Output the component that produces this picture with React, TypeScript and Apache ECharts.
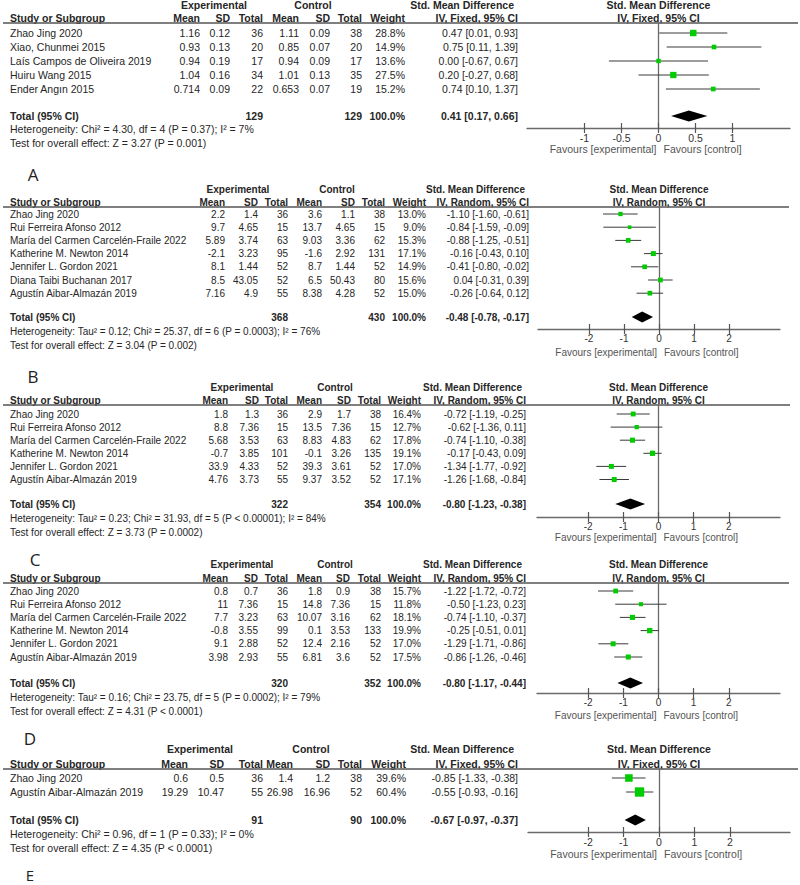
import React, { useEffect, useRef } from 'react';
import * as echarts from 'echarts';

// ===== Panel A data (IV, Fixed) =====
const A_studies = ['Zhao Jing 2020', 'Xiao, Chunmei 2015', 'Laís Campos de Oliveira 2019', 'Huiru Wang 2015', 'Ender Angın 2015'];
const A_expMean = [1.16, 0.93, 0.94, 1.04, 0.714];
const A_expSD = [0.12, 0.13, 0.19, 0.16, 0.09];
const A_expN = [36, 20, 17, 34, 22];
const A_ctlMean = [1.11, 0.85, 0.94, 1.01, 0.653];
const A_ctlSD = [0.09, 0.07, 0.09, 0.13, 0.07];
const A_ctlN = [38, 20, 17, 35, 19];
const A_weight = [28.8, 14.9, 13.6, 27.5, 15.2];
const A_smd = [0.47, 0.75, 0.0, 0.2, 0.74];
const A_lo = [0.01, 0.11, -0.67, -0.27, 0.1];
const A_hi = [0.93, 1.39, 0.67, 0.68, 1.37];
const A_total = { exp: 129, ctl: 129, smd: 0.41, lo: 0.17, hi: 0.66 };
const A_het = 'Heterogeneity: Chi² = 4.30, df = 4 (P = 0.37); I² = 7%';
const A_test = 'Test for overall effect: Z = 3.27 (P = 0.001)';
const A_ticks = [-1, -0.5, 0, 0.5, 1];

// ===== Panel B data (IV, Random) =====
const B_studies = ['Zhao Jing 2020', 'Rui Ferreira Afonso 2012', 'María del Carmen Carcelén-Fraile 2022', 'Katherine M. Newton 2014', 'Jennifer L. Gordon 2021', 'Diana Taibi Buchanan 2017', 'Agustín Aibar-Almazán 2019'];
const B_expMean = [2.2, 9.7, 5.89, -2.1, 8.1, 8.5, 7.16];
const B_expSD = [1.4, 4.65, 3.74, 3.23, 1.44, 43.05, 4.9];
const B_expN = [36, 15, 63, 95, 52, 52, 55];
const B_ctlMean = [3.6, 13.7, 9.03, -1.6, 8.7, 6.5, 8.38];
const B_ctlSD = [1.1, 4.65, 3.36, 2.92, 1.44, 50.43, 4.28];
const B_ctlN = [38, 15, 62, 131, 52, 80, 52];
const B_weight = [13.0, 9.0, 15.3, 17.1, 14.9, 15.6, 15.0];
const B_smd = [-1.1, -0.84, -0.88, -0.16, -0.41, 0.04, -0.26];
const B_lo = [-1.6, -1.59, -1.25, -0.43, -0.8, -0.31, -0.64];
const B_hi = [-0.61, -0.09, -0.51, 0.1, -0.02, 0.39, 0.12];
const B_total = { exp: 368, ctl: 430, smd: -0.48, lo: -0.78, hi: -0.17 };
const B_het = 'Heterogeneity: Tau² = 0.12; Chi² = 25.37, df = 6 (P = 0.0003); I² = 76%';
const B_test = 'Test for overall effect: Z = 3.04 (P = 0.002)';

// ===== Panel C data (IV, Random) =====
const C_studies = ['Zhao Jing 2020', 'Rui Ferreira Afonso 2012', 'María del Carmen Carcelén-Fraile 2022', 'Katherine M. Newton 2014', 'Jennifer L. Gordon 2021', 'Agustín Aibar-Almazán 2019'];
const C_expMean = [1.8, 8.8, 5.68, -0.7, 33.9, 4.76];
const C_expSD = [1.3, 7.36, 3.53, 3.85, 4.33, 3.73];
const C_expN = [36, 15, 63, 101, 52, 55];
const C_ctlMean = [2.9, 13.5, 8.83, -0.1, 39.3, 9.37];
const C_ctlSD = [1.7, 7.36, 4.83, 3.26, 3.61, 3.52];
const C_ctlN = [38, 15, 62, 135, 52, 52];
const C_weight = [16.4, 12.7, 17.8, 19.1, 17.0, 17.1];
const C_smd = [-0.72, -0.62, -0.74, -0.17, -1.34, -1.26];
const C_lo = [-1.19, -1.36, -1.1, -0.43, -1.77, -1.68];
const C_hi = [-0.25, 0.11, -0.38, 0.09, -0.92, -0.84];
const C_total = { exp: 322, ctl: 354, smd: -0.8, lo: -1.23, hi: -0.38 };
const C_het = 'Heterogeneity: Tau² = 0.23; Chi² = 31.93, df = 5 (P < 0.00001); I² = 84%';
const C_test = 'Test for overall effect: Z = 3.73 (P = 0.0002)';

// ===== Panel D data (IV, Random) =====
const D_studies = ['Zhao Jing 2020', 'Rui Ferreira Afonso 2012', 'María del Carmen Carcelén-Fraile 2022', 'Katherine M. Newton 2014', 'Jennifer L. Gordon 2021', 'Agustín Aibar-Almazán 2019'];
const D_expMean = [0.8, 11, 7.7, -0.8, 9.1, 3.98];
const D_expSD = [0.7, 7.36, 3.23, 3.55, 2.88, 2.93];
const D_expN = [36, 15, 63, 99, 52, 55];
const D_ctlMean = [1.8, 14.8, 10.07, 0.1, 12.4, 6.81];
const D_ctlSD = [0.9, 7.36, 3.16, 3.53, 2.16, 3.6];
const D_ctlN = [38, 15, 62, 133, 52, 52];
const D_weight = [15.7, 11.8, 18.1, 19.9, 17.0, 17.5];
const D_smd = [-1.22, -0.5, -0.74, -0.25, -1.29, -0.86];
const D_lo = [-1.72, -1.23, -1.1, -0.51, -1.71, -1.26];
const D_hi = [-0.72, 0.23, -0.37, 0.01, -0.86, -0.46];
const D_total = { exp: 320, ctl: 352, smd: -0.8, lo: -1.17, hi: -0.44 };
const D_het = 'Heterogeneity: Tau² = 0.16; Chi² = 23.75, df = 5 (P = 0.0002); I² = 79%';
const D_test = 'Test for overall effect: Z = 4.31 (P < 0.0001)';

// ===== Panel E data (IV, Fixed) =====
const E_studies = ['Zhao Jing 2020', 'Agustín Aibar-Almazán 2019'];
const E_expMean = [0.6, 19.29];
const E_expSD = [0.5, 10.47];
const E_expN = [36, 55];
const E_ctlMean = [1.4, 26.98];
const E_ctlSD = [1.2, 16.96];
const E_ctlN = [38, 52];
const E_weight = [39.6, 60.4];
const E_smd = [-0.85, -0.55];
const E_lo = [-1.33, -0.93];
const E_hi = [-0.38, -0.16];
const E_total = { exp: 91, ctl: 90, smd: -0.67, lo: -0.97, hi: -0.37 };
const E_het = 'Heterogeneity: Chi² = 0.96, df = 1 (P = 0.33); I² = 0%';
const E_test = 'Test for overall effect: Z = 4.35 (P < 0.0001)';

const WIDE_ticks = [-2, -1, 0, 1, 2];
const panelLetters = ['A', 'B', 'C', 'D', 'E'];

const FONT = "'Liberation Sans', Arial, sans-serif";

const panelsData = [
  { studies: A_studies, expMean: A_expMean, expSD: A_expSD, expN: A_expN, ctlMean: A_ctlMean, ctlSD: A_ctlSD, ctlN: A_ctlN, weight: A_weight, smd: A_smd, lo: A_lo, hi: A_hi, total: A_total, het: A_het, test: A_test, method: 'IV, Fixed, 95% CI', ticks: A_ticks },
  { studies: B_studies, expMean: B_expMean, expSD: B_expSD, expN: B_expN, ctlMean: B_ctlMean, ctlSD: B_ctlSD, ctlN: B_ctlN, weight: B_weight, smd: B_smd, lo: B_lo, hi: B_hi, total: B_total, het: B_het, test: B_test, method: 'IV, Random, 95% CI', ticks: WIDE_ticks },
  { studies: C_studies, expMean: C_expMean, expSD: C_expSD, expN: C_expN, ctlMean: C_ctlMean, ctlSD: C_ctlSD, ctlN: C_ctlN, weight: C_weight, smd: C_smd, lo: C_lo, hi: C_hi, total: C_total, het: C_het, test: C_test, method: 'IV, Random, 95% CI', ticks: WIDE_ticks },
  { studies: D_studies, expMean: D_expMean, expSD: D_expSD, expN: D_expN, ctlMean: D_ctlMean, ctlSD: D_ctlSD, ctlN: D_ctlN, weight: D_weight, smd: D_smd, lo: D_lo, hi: D_hi, total: D_total, het: D_het, test: D_test, method: 'IV, Random, 95% CI', ticks: WIDE_ticks },
  { studies: E_studies, expMean: E_expMean, expSD: E_expSD, expN: E_expN, ctlMean: E_ctlMean, ctlSD: E_ctlSD, ctlN: E_ctlN, weight: E_weight, smd: E_smd, lo: E_lo, hi: E_hi, total: E_total, het: E_het, test: E_test, method: 'IV, Fixed, 95% CI', ticks: WIDE_ticks },
];

// ===== Layout (pixels) =====
const layouts = [
  { fs: 10.5, expY: 5, headY: 18, lineY: 23, row0: 33, step: 14, totalY: 116, hetY: 129, testY: 143, axisY: 128, favY: 149, letterY: 174, letterX: 33, letterSize: 17,
    cols: [200, 230, 263, 299, 330, 362, 405, 518], expX: 214, ctlX: 313, lineEnd: 798, gridL: 527, gridR: 790, xMin: -1.777, xMax: 1.777 },
  { fs: 10, expY: 189, headY: 202, lineY: 207, row0: 214, step: 13.2, totalY: 317, hetY: 331, testY: 345, axisY: 329, favY: 352, letterY: 376, letterX: 33, letterSize: 17,
    cols: [225, 258, 288, 322, 355, 385, 426, 529], expX: 238, ctlX: 337, lineEnd: 789, gridL: 538, gridR: 780, xMin: -3.457, xMax: 3.457 },
  { fs: 10, expY: 387, headY: 400, lineY: 405, row0: 414, step: 13.1, totalY: 504, hetY: 518, testY: 532, axisY: 517, favY: 537, letterY: 559, letterX: 35, letterSize: 17,
    cols: [228, 259, 288, 322, 351, 381, 421, 526], expX: 242, ctlX: 335, lineEnd: 790, gridL: 537, gridR: 780, xMin: -3.457, xMax: 3.457 },
  { fs: 10, expY: 564, headY: 578, lineY: 583, row0: 591, step: 13.2, totalY: 683, hetY: 697, testY: 711, axisY: 693, favY: 715, letterY: 738, letterX: 30, letterSize: 17,
    cols: [228, 258, 288, 322, 350, 381, 421, 526], expX: 242, ctlX: 335, lineEnd: 789, gridL: 537, gridR: 780, xMin: -3.457, xMax: 3.457 },
  { fs: 10.5, expY: 749, headY: 764, lineY: 769, row0: 778, step: 14, totalY: 820, hetY: 834, testY: 848, axisY: 832, favY: 854, letterY: 875, letterX: 30, letterSize: 15,
    cols: [188, 224, 263, 293, 330, 362, 406, 518], expX: 200, ctlX: 311, lineEnd: 798, gridL: 528, gridR: 790, xMin: -3.7, xMax: 3.7 },
];

const TEXT = '#262626';

function txt(x: number, y: number, s: string, align: string, bold: boolean, size: number, color = TEXT, family = FONT) {
  return {
    type: 'text',
    silent: true,
    style: {
      text: s, x, y, fill: color,
      font: `${bold ? 'bold ' : ''}${size}px ${family}`,
      align, verticalAlign: 'middle', textAlign: align, textVerticalAlign: 'middle',
    },
  };
}

function fmtCI(e: number, l: number, h: number) {
  return `${e.toFixed(2)} [${l.toFixed(2)}, ${h.toFixed(2)}]`;
}

function buildGraphic() {
  const els: any[] = [];
  panelsData.forEach((p, pi) => {
    const L = layouts[pi];
    const c = L.cols;
    const fs = L.fs;
    const zeroX = L.gridL + ((0 - L.xMin) / (L.xMax - L.xMin)) * (L.gridR - L.gridL);
    // group headers
    els.push(txt(L.expX, L.expY, 'Experimental', 'center', true, fs));
    els.push(txt(L.ctlX, L.expY, 'Control', 'center', true, fs));
    els.push(txt(c[7] - 4, L.expY, 'Std. Mean Difference', 'right', true, fs));
    els.push(txt(zeroX, L.expY, 'Std. Mean Difference', 'center', true, fs));
    // column headers
    els.push(txt(10, L.headY, 'Study or Subgroup', 'left', true, fs));
    const heads = ['Mean', 'SD', 'Total', 'Mean', 'SD', 'Total', 'Weight', p.method];
    heads.forEach((h, k) => els.push(txt(c[k], L.headY, h, 'right', true, fs)));
    els.push(txt(zeroX, L.headY, p.method, 'center', true, fs));
    els.push({ type: 'line', silent: true, shape: { x1: 3, y1: L.lineY, x2: L.lineEnd, y2: L.lineY }, style: { stroke: '#555', lineWidth: 1.4 } });
    // study rows
    p.studies.forEach((name, i) => {
      const y = L.row0 + i * L.step;
      els.push(txt(10, y, name, 'left', false, fs));
      const vals = [String(p.expMean[i]), String(p.expSD[i]), String(p.expN[i]), String(p.ctlMean[i]), String(p.ctlSD[i]), String(p.ctlN[i]), p.weight[i].toFixed(1) + '%', fmtCI(p.smd[i], p.lo[i], p.hi[i])];
      vals.forEach((v, k) => els.push(txt(c[k], y, v, 'right', false, fs)));
    });
    // total row
    els.push(txt(10, L.totalY, 'Total (95% CI)', 'left', true, fs));
    els.push(txt(c[2], L.totalY, String(p.total.exp), 'right', true, fs));
    els.push(txt(c[5], L.totalY, String(p.total.ctl), 'right', true, fs));
    els.push(txt(c[6], L.totalY, '100.0%', 'right', true, fs));
    els.push(txt(c[7], L.totalY, fmtCI(p.total.smd, p.total.lo, p.total.hi), 'right', true, fs));
    els.push(txt(10, L.hetY, p.het, 'left', false, fs));
    els.push(txt(10, L.testY, p.test, 'left', false, fs));
    // favours
    els.push(txt(zeroX - 2, L.favY, 'Favours [experimental]', 'right', false, fs, '#555'));
    els.push(txt(zeroX + 5, L.favY, 'Favours [control]', 'left', false, fs, '#555'));
    // panel letter
    els.push(txt(L.letterX, L.letterY, panelLetters[pi], 'center', false, L.letterSize, '#222', "'Open Sans', 'Noto Sans', sans-serif"));
  });
  return els;
}

function renderItem(params: any, api: any) {
  const est = api.value(0), lo = api.value(1), hi = api.value(2), w = api.value(3), row = api.value(4), isTotal = api.value(5);
  const c = api.coord([est, row]);
  const l = api.coord([lo, row]);
  const h = api.coord([hi, row]);
  if (isTotal) {
    return {
      type: 'polygon',
      shape: { points: [[l[0], c[1]], [c[0], c[1] - 5.5], [h[0], c[1]], [c[0], c[1] + 5.5]] },
      style: { fill: '#000' },
    };
  }
  const s = 1.2 * Math.sqrt(w);
  return {
    type: 'group',
    children: [
      { type: 'line', shape: { x1: l[0], y1: c[1], x2: h[0], y2: c[1] }, style: { stroke: '#3a3a3a', lineWidth: 1 } },
      { type: 'rect', shape: { x: c[0] - s / 2, y: c[1] - s / 2, width: s, height: s }, style: { fill: '#00cc00' } },
    ],
  };
}

function buildOption() {
  const grid: any[] = [];
  const xAxis: any[] = [];
  const yAxis: any[] = [];
  const series: any[] = [];
  panelsData.forEach((p, i) => {
    const L = layouts[i];
    grid.push({ left: L.gridL, top: L.lineY, width: L.gridR - L.gridL, height: L.axisY - L.lineY, containLabel: false });
    xAxis.push({
      gridIndex: i, type: 'value', min: L.xMin, max: L.xMax, position: 'bottom',
      axisLine: { show: true, onZero: false, lineStyle: { color: '#6a6a6a', width: 1.3 } },
      axisTick: { show: true, customValues: p.ticks, length: 5, lineStyle: { color: '#555', width: 1.2 } },
      axisLabel: { show: true, customValues: p.ticks, margin: 4, fontSize: L.fs, color: '#333', fontFamily: FONT, formatter: (v: number) => String(v) },
      splitLine: { show: false },
    });
    xAxis.push({
      gridIndex: i, type: 'value', min: L.xMin, max: L.xMax, position: 'bottom',
      axisLine: { show: false, onZero: false },
      axisTick: { show: true, inside: true, customValues: p.ticks, length: 5, lineStyle: { color: '#555', width: 1.2 } },
      axisLabel: { show: false },
      splitLine: { show: false },
    });
    const yMin = (L.lineY - L.row0) / L.step;
    const yMax = (L.axisY - L.row0) / L.step;
    yAxis.push({
      gridIndex: i, type: 'value', inverse: true, min: yMin, max: yMax,
      axisLine: { show: true, onZero: true, onZeroAxisIndex: 2 * i, lineStyle: { color: '#6a6a6a', width: 1.3 } },
      axisTick: { show: false }, axisLabel: { show: false }, splitLine: { show: false },
    });
    const totalRow = (L.totalY - L.row0) / L.step;
    const data: number[][] = p.smd.map((v, k) => [v, p.lo[k], p.hi[k], p.weight[k], k, 0]);
    data.push([p.total.smd, p.total.lo, p.total.hi, 100, totalRow, 1]);
    series.push({
      type: 'custom', xAxisIndex: 2 * i, yAxisIndex: i, data, renderItem, clip: false, silent: true,
      encode: { x: [0, 1, 2], y: 4 },
    });
  });
  return {
    animation: false,
    backgroundColor: '#ffffff',
    textStyle: { fontFamily: FONT },
    grid, xAxis, yAxis, series,
    graphic: buildGraphic(),
  };
}

export default function App() {
  const ref = useRef<HTMLDivElement>(null);
  useEffect(() => {
    if (!ref.current) return;
    const chart = echarts.init(ref.current, null, { renderer: 'svg' });
    chart.setOption(buildOption() as any);
    return () => chart.dispose();
  }, []);
  return <div ref={ref} style={{ position: 'absolute', left: 0, top: 0, width: 800, height: 885, background: '#fff' }} />;
}
